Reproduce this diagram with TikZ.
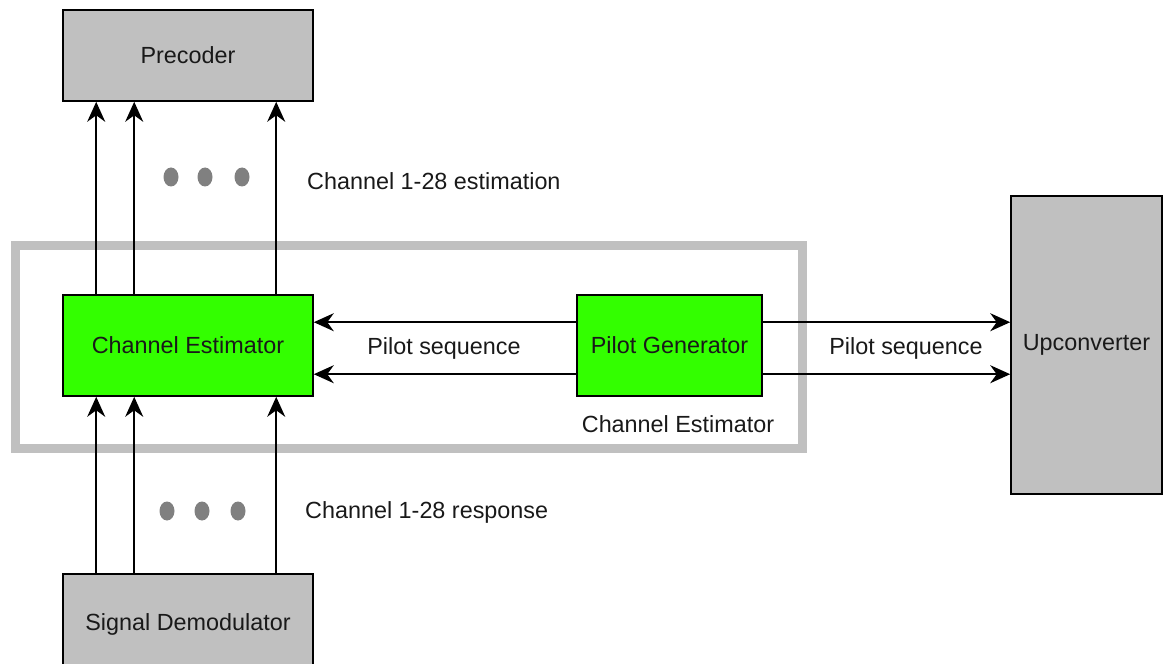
\documentclass[tikz,border=0pt]{standalone}
\usepackage{fontspec}
\setmainfont{Liberation Sans}
\usepackage{xcolor}
\usepackage{tikz}
\usetikzlibrary{shapes.geometric, arrows.meta, positioning}
\definecolor{blockgray}{RGB}{192,192,192}
\definecolor{blockgreen}{RGB}{51,255,0}
\definecolor{framegray}{RGB}{192,192,192}
\definecolor{dotgray}{RGB}{128,128,128}
\definecolor{textdark}{RGB}{25,25,25}

\begin{document}
\begin{tikzpicture}[
    font=\fontsize{13.3}{16}\selectfont,
    block/.style={draw, line width=0.9pt, fill=blockgray, text=textdark, minimum width=5cm, minimum height=2cm},
    greenblock/.style={block, fill=blockgreen},
    dot/.style={ellipse, fill=dotgray, minimum width=0.3cm, minimum height=0.38cm, inner sep=0pt},
    lbl/.style={text=textdark},
    flow/.style={-{Stealth[length=0.4cm, width=0.36cm, inset=0.13cm]}, line width=1pt}
]
    \useasboundingbox (0,0) rectangle (23.26,-13.28);

    % Frame
    \draw[framegray, line width=0.18cm] (0.3,-4.9) rectangle (16.04,-8.96);

    % Blocks
    \node[block, minimum height=1.82cm] (precoder) at (3.76,-1.11) {Precoder};
    \node[greenblock, minimum height=2.02cm] (chest) at (3.76,-6.91) {Channel Estimator};
    \node[greenblock, minimum width=3.7cm, minimum height=2.02cm] (pilot) at (13.39,-6.91) {Pilot Generator};
    \node[block, minimum width=3.02cm, minimum height=5.96cm] (upconv) at (21.73,-6.9) {Upconverter};
    \node[block] (demod) at (3.76,-12.48) {Signal Demodulator};

    % Channel arrows
    \foreach \dx in {0.68, 1.44, 4.28} {
        \draw[flow] ([xshift=\dx cm]chest.north west) -- ([xshift=\dx cm]precoder.south west);
        \draw[flow] ([xshift=\dx cm]demod.north west) -- ([xshift=\dx cm]chest.south west);
    }

    % Pilot arrows
    \foreach \dy in {0.56, 1.6} {
        \draw[flow] ([yshift=-\dy cm]pilot.north west) -- ([yshift=-\dy cm]chest.north east);
        \draw[flow] ([yshift=-\dy cm]pilot.north east) coordinate (p) -- (p -| upconv.west);
    }

    % Dots
    \foreach \x in {3.42, 4.1, 4.84} \node[dot] at (\x,-3.54) {};
    \foreach \x in {3.34, 4.04, 4.76} \node[dot] at (\x,-10.22) {};

    % Labels
    \node[lbl, anchor=west] (estlbl) at (6.02,-3.62) {Channel 1-28 estimation};
    \node[lbl, anchor=west] (resplbl) at (5.98,-10.24) {Channel 1-28 response};
    \node[lbl] (seqleft) at (8.88,-6.96) {Pilot sequence};
    \node[lbl] (seqright) at (18.12,-6.96) {Pilot sequence};
    \node[lbl] (framelbl) at (13.56,-8.48) {Channel Estimator};
\end{tikzpicture}
\end{document}
